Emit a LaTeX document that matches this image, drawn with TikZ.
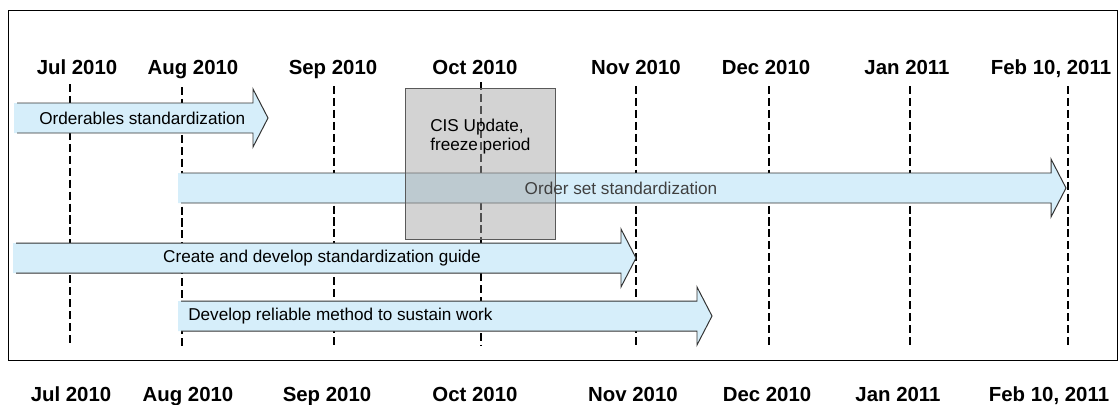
\documentclass[tikz,border=0pt]{standalone}
\usepackage{fontspec}
\setmainfont{Liberation Sans}
\usetikzlibrary{calc}
\definecolor{taskblue}{RGB}{214,238,250}
\definecolor{freezegray}{RGB}{165,165,165}
\def\taskarrow[#1](#2:#3:#4){\fill[taskblue] (#2,#4-15) -- (#3-15,#4-15) -- (#3-15,#4-29) -- (#3,#4) -- (#3-15,#4+29) -- (#3-15,#4+15) -- (#2,#4+15) -- cycle;
	\draw[#1] (#2+3,#4-15) -- (#3-15,#4-15) -- (#3-15,#4-29) -- (#3,#4) -- (#3-15,#4+29) -- (#3-15,#4+15) -- (#2+3,#4+15);}

\begin{document}
\begin{tikzpicture}[x=0.025cm, y=-0.025cm,
		month/.style={font=\fontsize{14.5}{17}\selectfont\bfseries, anchor=base, inner sep=0pt},
		tasktext/.style={font=\fontsize{12.2}{13.5}\selectfont, inner sep=0pt},
		taskedge/.style={line width=0.7pt, color=black!80},
		monthline/.style={line width=1.3pt, dash pattern=on 5.7pt off 2.8pt}]
		%%%%% START %%%%%
		
		\useasboundingbox (0, 0) rectangle (1119, 404);
		\draw[line width=0.7pt] (8, 10) rectangle (1117, 360);
		
		\node[month] (jultop) at (77, 74) {Jul 2010};
		\node[month] (augtop) at (193, 74) {Aug 2010};
		\node[month] (septop) at (333, 74) {Sep 2010};
		\node[month] (octtop) at (475, 74) {Oct 2010};
		\node[month] (novtop) at (636, 74) {Nov 2010};
		\node[month] (dectop) at (766, 74) {Dec 2010};
		\node[month] (jantop) at (907, 74) {Jan 2011};
		\node[month] (febtop) at (1051, 74) {Feb 10, 2011};
		
		\draw[monthline] (70, 84) -- (70, 345);
		\draw[monthline] (182, 87) -- (182, 348);
		\draw[monthline] (334, 86) -- (334, 345);
		\draw[monthline] (481, 82) -- (481, 345);
		\draw[monthline] (636, 86) -- (636, 345);
		\draw[monthline] (769, 86) -- (769, 345);
		\draw[monthline] (910, 86) -- (910, 345);
		\draw[monthline] (1068, 86) -- (1068, 345);
		
		\taskarrow[taskedge](14:268:118);
		\taskarrow[taskedge](178:1066:188);
		\taskarrow[taskedge](13:636:258);
		\taskarrow[taskedge](178:712:316);
		
		\draw[draw=black!65, fill=freezegray, fill opacity=0.49] (405, 88) rectangle (555, 239);
		\node[tasktext, anchor=north west, align=left] (freeze) at (430, 119) {CIS Update,\\freeze period};
		
		\node[tasktext, anchor=west] (orderables) at (39, 118) {Orderables standardization};
		\node[tasktext, text=black!75] (orderset) at (621, 188) {Order set standardization};
		\node[tasktext] (guide) at (322, 258) {Create and develop standardization guide};
		\node[tasktext, anchor=west] (sustain) at (188, 316) {Develop reliable method to sustain work};
		
		\node[month] (julbot) at (71, 401) {Jul 2010};
		\node[month] (augbot) at (188, 401) {Aug 2010};
		\node[month] (sepbot) at (327, 401) {Sep 2010};
		\node[month] (octbot) at (475, 401) {Oct 2010};
		\node[month] (novbot) at (633, 401) {Nov 2010};
		\node[month] (decbot) at (767, 401) {Dec 2010};
		\node[month] (janbot) at (898, 401) {Jan 2011};
		\node[month] (febbot) at (1049, 401) {Feb 10, 2011};
		
		%%%%% END %%%%%
	\end{tikzpicture}
\end{document}
